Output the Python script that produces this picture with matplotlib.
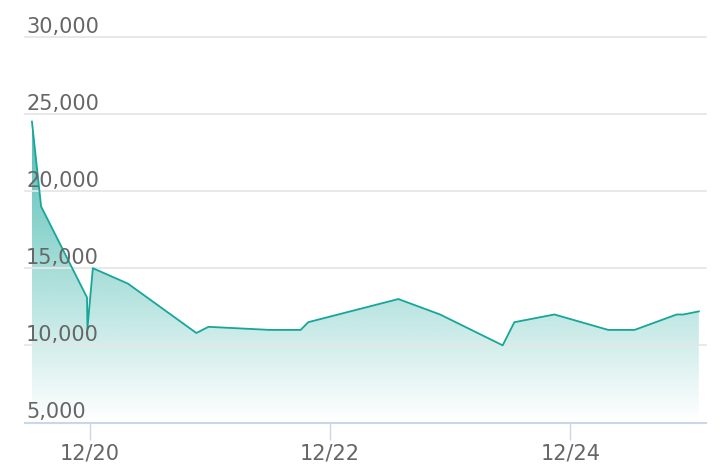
import numpy as np
import matplotlib
matplotlib.use('Agg')
from matplotlib import pyplot as plt
import matplotlib.dates as mdates
import matplotlib.transforms as mtransforms
from datetime import datetime


# data
times = ['2023-12-19 12:30', '2023-12-19 14:20', '2023-12-19 23:30', '2023-12-19 23:35',
         '2023-12-20 00:40', '2023-12-20 07:40', '2023-12-20 21:20', '2023-12-20 23:45',
         '2023-12-21 12:00', '2023-12-21 18:10', '2023-12-21 19:40', '2023-12-22 13:40',
         '2023-12-22 22:00', '2023-12-23 10:30', '2023-12-23 12:50', '2023-12-23 20:50',
         '2023-12-24 07:35', '2023-12-24 12:50', '2023-12-24 21:15', '2023-12-24 22:35',
         '2023-12-25 01:40']
values = [24500, 19000, 13100, 11100, 15000, 14000, 10800, 11200, 11000, 11000, 11500,
          13000, 12000, 10000, 11500, 12000, 11000, 11000, 12000, 12000, 12200]
y_ticks = [5000, 10000, 15000, 20000, 25000, 30000]
x_ticks = ['2023-12-20', '2023-12-22', '2023-12-24']
x_range = ['2023-12-19 11:07', '2023-12-25 03:06']

dates = [datetime.strptime(t, '%Y-%m-%d %H:%M') for t in times]
xnum = mdates.date2num(dates)
xlim = mdates.date2num([datetime.strptime(t, '%Y-%m-%d %H:%M') for t in x_range])

line_color = '#16a69a'
grid_color = '#e6e6e6'
axis_color = '#ccd6eb'
label_color = '#666666'

fig = plt.figure(figsize=(7.2, 4.76), dpi=100)
ax = fig.add_axes([25 / 720, (476 - 422.5) / 476, 681 / 720, (422.5 - 36.7) / 476])

# gradient fill under the line
base = y_ticks[0]
top = max(values)
grad = np.zeros((256, 1, 4))
grad[:, :, :3] = matplotlib.colors.to_rgb(line_color)
grad[:, 0, 3] = np.linspace(0.75, 0.0, 256)
poly = ax.fill_between(xnum, values, base, color='none', lw=0)
img = ax.imshow(grad, aspect='auto', extent=[xnum[0], xnum[-1], base, top],
                origin='upper', zorder=1, interpolation='bilinear')
img.set_clip_path(poly.get_paths()[0], transform=ax.transData)
ax.set_xlim(xlim)
ax.set_ylim(y_ticks[0], y_ticks[-1])

ax.plot(xnum, values, color=line_color, lw=1.3, zorder=3)

# grid lines and y labels sitting above them
for v in y_ticks[1:]:
    ax.axhline(v, color=grid_color, lw=1.3, zorder=2, clip_on=False)
trans = mtransforms.blended_transform_factory(ax.transAxes, ax.transData)
trans = mtransforms.offset_copy(trans, fig=fig, x=1, y=4, units='dots')
for v in y_ticks:
    ax.text(0, v, f'{v:,}', transform=trans, ha='left', va='baseline',
            fontsize=15, color=label_color, zorder=4)

ax.set_yticks([])
ax.set_xticks(mdates.date2num([datetime.strptime(t, '%Y-%m-%d') for t in x_ticks]))
ax.xaxis.set_major_formatter(mdates.DateFormatter('%m/%d'))
ax.tick_params(axis='x', length=12, width=1, color=axis_color, pad=3,
               labelsize=15, labelcolor=label_color)

for s in ['top', 'left', 'right']:
    ax.spines[s].set_visible(False)
ax.spines['bottom'].set_color(axis_color)
ax.spines['bottom'].set_linewidth(1.5)

fig.savefig('out.png', dpi=100)
